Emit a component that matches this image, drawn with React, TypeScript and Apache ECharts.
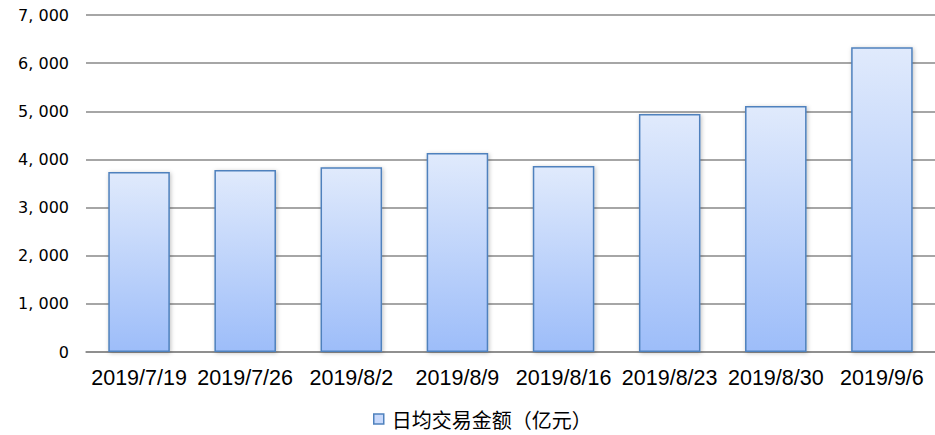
import React, { useEffect, useRef } from "react";
import * as echarts from "echarts";

const categories = ["2019/7/19", "2019/7/26", "2019/8/2", "2019/8/9", "2019/8/16", "2019/8/23", "2019/8/30", "2019/9/6"];
const values = [3740, 3780, 3840, 4135, 3865, 4945, 5110, 6330];
const seriesName = "日均交易金额（亿元）";

export default function App() {
  const ref = useRef<HTMLDivElement>(null);
  useEffect(() => {
    const chart = echarts.init(ref.current!, undefined, { renderer: "svg" });
    const fill = new echarts.graphic.LinearGradient(0, 0, 0, 1, [
      { offset: 0, color: "#e0eafc" },
      { offset: 1, color: "#9dbdf9" },
    ]);
    chart.setOption({
      animation: false,
      backgroundColor: "#ffffff",
      grid: { left: 86, right: 0, top: 15, bottom: 83, containLabel: false },
      legend: {
        top: 406,
        left: 371,
        padding: 2,
        itemWidth: 10,
        itemHeight: 10,
        itemGap: 6,
        icon: "rect",
        textStyle: { fontFamily: "Noto Sans CJK SC", fontSize: 20, lineHeight: 22, color: "#000", padding: [0, 0, 0, 3] },
        data: [{ name: seriesName, itemStyle: { color: "#c8d9fb", borderColor: "#4f81bd", borderWidth: 1.5 } }],
      },
      xAxis: {
        type: "category",
        data: categories,
        axisLine: { lineStyle: { color: "#888", width: 1.5 } },
        axisTick: { show: false },
        axisLabel: { color: "#000", fontSize: 21.5, fontFamily: "Liberation Sans", margin: 15, interval: 0 },
      },
      yAxis: {
        type: "value",
        min: 0,
        max: 7000,
        interval: 1000,
        axisLine: { show: false },
        axisTick: { show: false },
        splitLine: { lineStyle: { color: "#888", width: 1.5 } },
        axisLabel: {
          color: "#000",
          fontSize: 16,
          fontFamily: "DejaVu Sans",
          margin: 17,
          formatter: (v: number) => v.toLocaleString("en-US").replace(",", ", "),
        },
      },
      series: [
        {
          name: seriesName,
          type: "bar",
          data: values,
          barWidth: "58%",
          itemStyle: {
            color: fill,
            borderColor: "#4f81bd",
            borderWidth: 1.5,
            shadowColor: "rgba(0,0,0,0.25)",
            shadowBlur: 4,
            shadowOffsetX: 1,
            shadowOffsetY: 1,
          },
        },
      ],
    });
    return () => chart.dispose();
  }, []);
  return <div ref={ref} style={{ position: "absolute", left: 0, top: 0, width: 935, height: 435 }} />;
}
